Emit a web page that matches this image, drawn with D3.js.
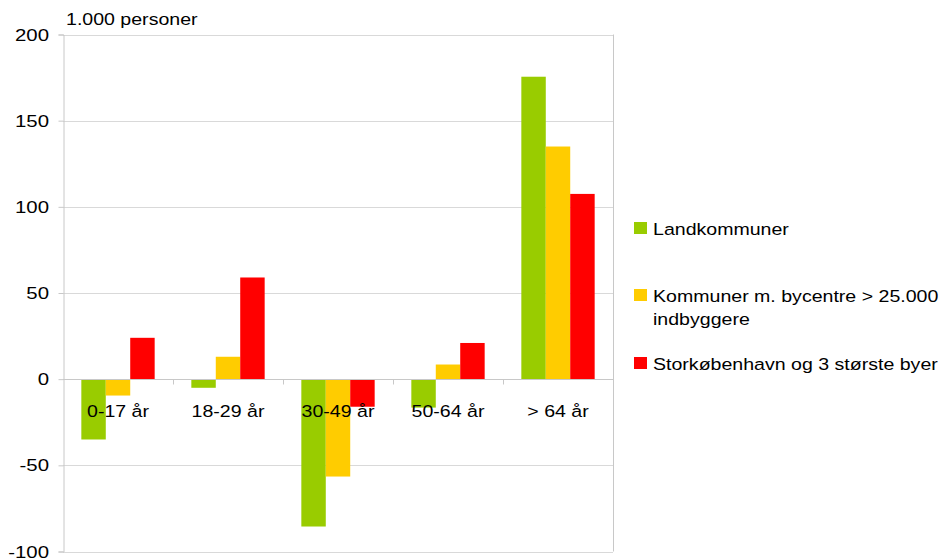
<!DOCTYPE html>
<html>
<head>
<meta charset="utf-8">
<script src="https://cdn.jsdelivr.net/npm/d3@7"></script>
<style>
  body { margin: 0; background: #fff; }
  text { font-family: "Liberation Sans", Arial, sans-serif; fill: #000; font-size: 16.3px; }
</style>
</head>
<body>
<div id="container"></div>
<script>
var categories = ["0-17 år", "18-29 år", "30-49 år", "50-64 år", "> 64 år"];
var seriesNames = ["Landkommuner", "Kommuner m. bycentre > 25.000 indbyggere", "Storkøbenhavn og 3 største byer"];
var landkommuner = [-35, -5, -85.5, -16.5, 175.5];
var bycentre = [-9.5, 13, -56.5, 8.5, 135];
var storbyer = [24, 59, -16, 21, 107.5];
var yTicks = [-100, -50, 0, 50, 100, 150, 200];
var colors = ["#99cc00", "#ffcc00", "#ff0000"];

var width = 941, height = 560;
var margin = {left: 63, top: 35, right: 328, bottom: 8};
var stretch = 1.2; // text in the original is a bit wide

var svg = d3.select("#container").append("svg")
    .attr("width", width)
    .attr("height", height);

// helper: put a text at x,y, widened a little
function label(parent, x, y, anchor, txt) {
    return parent.append("g")
        .attr("transform", "translate(" + x + "," + y + ") scale(" + stretch + ",1)")
        .append("text")
        .attr("text-anchor", anchor)
        .text(txt);
}

var x = d3.scaleBand()
    .domain(categories)
    .range([margin.left, width - margin.right]);

var y = d3.scaleLinear()
    .domain([-100, 200])
    .range([height - margin.bottom - 0.5, margin.top - 0.5]);

// gridlines
svg.append("g")
    .selectAll("line")
    .data(yTicks)
    .enter().append("line")
    .attr("x1", margin.left)
    .attr("x2", width - margin.right)
    .attr("y1", d => Math.round(y(d)) + 0.5)
    .attr("y2", d => Math.round(y(d)) + 0.5)
    .attr("stroke", "#d9d9d9");

// right border
svg.append("line")
    .attr("x1", width - margin.right + 0.5).attr("x2", width - margin.right + 0.5)
    .attr("y1", y(200)).attr("y2", y(-100))
    .attr("stroke", "#c8c8c8");

// bars
var series = [landkommuner, bycentre, storbyer];
var inner = d3.scaleBand()
    .domain(d3.range(series.length))
    .range([0, x.bandwidth()])
    .paddingOuter(0.75)
    .paddingInner(0);

series.forEach(function(vals, s) {
    svg.append("g")
        .selectAll("rect")
        .data(vals)
        .enter().append("rect")
        .attr("x", (d, i) => x(categories[i]) + inner(s))
        .attr("width", inner.bandwidth())
        .attr("y", d => y(Math.max(0, d)))
        .attr("height", d => Math.abs(y(d) - y(0)))
        .attr("fill", colors[s]);
});

// zero line with category ticks
var zy = Math.round(y(0)) + 0.5;
svg.append("line")
    .attr("x1", margin.left).attr("x2", width - margin.right)
    .attr("y1", zy).attr("y2", zy)
    .attr("stroke", "#c8c8c8");
svg.append("g")
    .selectAll("line")
    .data(categories.slice(1))
    .enter().append("line")
    .attr("x1", d => Math.round(x(d)) + 0.5)
    .attr("x2", d => Math.round(x(d)) + 0.5)
    .attr("y1", zy).attr("y2", zy + 5)
    .attr("stroke", "#c8c8c8");

// category labels
var catG = svg.append("g");
categories.forEach(function(c) {
    label(catG, x(c) + x.bandwidth() / 2, zy + 37, "middle", c);
});

// y axis
var yAxis = d3.axisLeft(y)
    .tickValues(yTicks)
    .tickSize(5)
    .tickFormat("");
var ya = svg.append("g")
    .attr("transform", "translate(" + (margin.left + 0.5) + ",0)")
    .call(yAxis);
ya.select(".domain").attr("stroke", "#c8c8c8");
ya.selectAll(".tick line").attr("stroke", "#c8c8c8");
var ylab = svg.append("g");
yTicks.forEach(function(t) {
    label(ylab, 49, y(t) + 6, "end", String(t)).style("font-size", "17px");
});

label(svg, 66, 25, "start", "1.000 personer");

// legend
var legend = [
    {name: seriesNames[0], lines: ["Landkommuner"], y: 228},
    {name: seriesNames[1], lines: ["Kommuner m. bycentre > 25.000", "indbyggere"], y: 295},
    {name: seriesNames[2], lines: ["Storkøbenhavn og 3 største byer"], y: 363}
];
legend.forEach(function(d, i) {
    var g = svg.append("g").attr("transform", "translate(634," + d.y + ")");
    g.append("rect")
        .attr("x", 0).attr("y", -6)
        .attr("width", 13).attr("height", 12)
        .attr("fill", colors[i]);
    d.lines.forEach(function(line, j) {
        label(g, 19, 7 + j * 23, "start", line);
    });
});
</script>
</body>
</html>
